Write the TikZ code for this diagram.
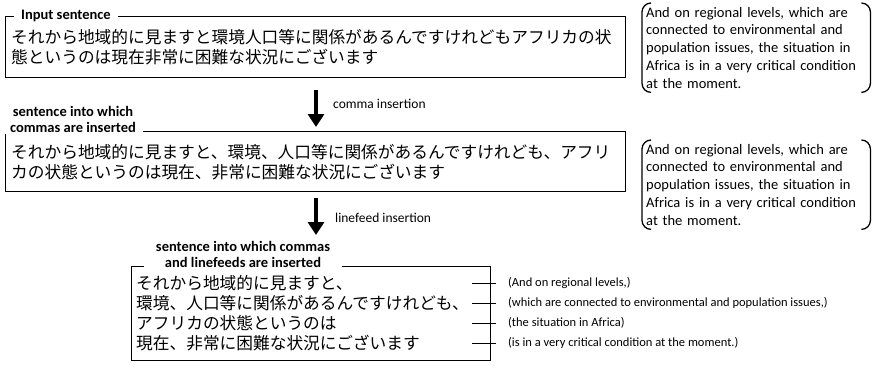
\documentclass[tikz,border=0pt]{standalone}
\usepackage{fontspec}
\setmainfont{Carlito}
\newfontfamily\jpfont{Noto Sans CJK JP}
\usetikzlibrary{arrows.meta, positioning, calc}

\begin{document}
\begin{tikzpicture}[x=1pt, y=-1pt,
      frame/.style={draw, line width=1.4pt, anchor=north west, inner sep=0pt},
      legend/.style={fill=white, font=\bfseries\fontsize{14.5}{16.5}\selectfont,
                     align=center, inner xsep=7pt, inner ysep=1pt},
      jp/.style={font=\jpfont\fontsize{16.7}{20}\selectfont, align=left,
                 anchor=west, inner sep=0pt},
      gloss/.style={font=\fontsize{14.5}{17.7}\selectfont, align=left, text width=220pt,
                    anchor=north west, inner xsep=4pt, inner ysep=4pt},
      bracket/.style={line width=1.3pt, rounded corners=9pt},
      bigarr/.style={-{Triangle[width=16pt, length=13pt]}, line width=3.6pt},
      steplabel/.style={font=\fontsize{13.5}{15}\selectfont, anchor=west, inner sep=0pt},
      rowgloss/.style={font=\fontsize{12.5}{14}\selectfont, anchor=west, inner sep=0pt},
      link/.style={line width=0.9pt}
    ]
    \useasboundingbox (0,0) rectangle (877,367);

    % input sentence
    \node[frame, minimum width=620pt, minimum height=61pt] (inbox) at (5,16) {};
    \node[legend, anchor=west] (intitle) at ($(inbox.north west)+(9,0)$) {Input sentence};
    \node[jp] (intext) at ($(inbox.west)+(6,0)$)
      {それから地域的に見ますと環境人口等に関係があるんですけれどもアフリカの状\\
       態というのは現在非常に困難な状況にございます};
    \node[gloss] (ingloss) at (642,3)
      {And on regional levels, which are\\connected to environmental and\\population issues, the situation in\\
       Africa is in a very critical condition\\at the moment.};
    \draw[bracket] ([xshift=9pt]ingloss.north west) -- (ingloss.north west)
      -- (ingloss.south west) -- ([xshift=9pt]ingloss.south west);
    \draw[bracket] ([xshift=-9pt]ingloss.north east) -- (ingloss.north east)
      -- (ingloss.south east) -- ([xshift=-9pt]ingloss.south east);

    % comma insertion
    \coordinate (c1) at (316,90);
    \coordinate (c2) at (316,127);
    \draw[bigarr] (c1) -- (c2);
    \node[steplabel] (commalabel) at (333,104) {comma insertion};

    % sentence with commas
    \node[frame, minimum width=620pt, minimum height=60pt] (combox) at (5,131) {};
    \node[legend, anchor=south] (comtitle) at ($(combox.north west)+(68,3)$)
      {sentence into which\\commas are inserted};
    \node[jp] (comtext) at ($(combox.west)+(6,0)$)
      {それから地域的に見ますと、環境、人口等に関係があるんですけれども、アフリ\\
       カの状態というのは現在、非常に困難な状況にございます};
    \node[gloss] (comgloss) at (642,140)
      {And on regional levels, which are\\connected to environmental and\\population issues, the situation in\\
       Africa is in a very critical condition\\at the moment.};
    \draw[bracket] ([xshift=9pt]comgloss.north west) -- (comgloss.north west)
      -- (comgloss.south west) -- ([xshift=9pt]comgloss.south west);
    \draw[bracket] ([xshift=-9pt]comgloss.north east) -- (comgloss.north east)
      -- (comgloss.south east) -- ([xshift=-9pt]comgloss.south east);

    % linefeed insertion
    \coordinate (l1) at (316,198);
    \coordinate (l2) at (316,235);
    \draw[bigarr] (l1) -- (l2);
    \node[steplabel] (feedlabel) at (335,218) {linefeed insertion};

    % sentence with commas and linefeeds
    \node[frame, minimum width=359pt, minimum height=94pt] (feedbox) at (131,266) {};
    \node[legend, anchor=south, inner xsep=12pt] (feedtitle) at ($(feedbox.north west)+(112,3)$)
      {sentence into which commas\\and linefeeds are inserted};
    \node[jp] (feedtext) at ($(feedbox.west)+(5,0)$)
      {それから地域的に見ますと、\\
       環境、人口等に関係があるんですけれども、\\
       アフリカの状態というのは\\
       現在、非常に困難な状況にございます};

    \coordinate (r1) at (472,283);
    \coordinate (r2) at (472,303);
    \coordinate (r3) at (472,323);
    \coordinate (r4) at (472,343);
    \node[rowgloss] (g1) at (508,283) {(And on regional levels,)};
    \node[rowgloss] (g2) at (508,303) {(which are connected to environmental and population issues,)};
    \node[rowgloss] (g3) at (508,323) {(the situation in Africa)};
    \node[rowgloss] (g4) at (508,343) {(is in a very critical condition at the moment.)};
    \draw[link] (r1) -- ([xshift=-12pt]g1.west);
    \draw[link] (r2) -- ([xshift=-12pt]g2.west);
    \draw[link] (r3) -- ([xshift=-12pt]g3.west);
    \draw[link] (r4) -- ([xshift=-12pt]g4.west);
  \end{tikzpicture}
\end{document}
